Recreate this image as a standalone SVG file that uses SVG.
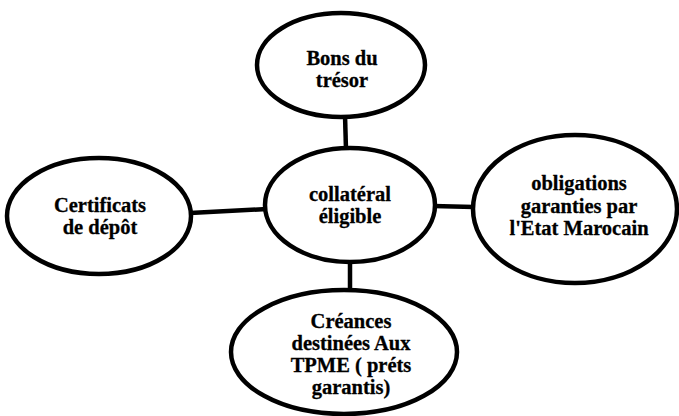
<svg xmlns="http://www.w3.org/2000/svg" width="679" height="416" viewBox="0 0 679 416">
<style>
.n{fill:#fff;stroke:#000;stroke-width:4.5}
.c{stroke:#000;stroke-width:4.5;fill:none}
text{font-family:"Liberation Serif","Times New Roman",serif;font-weight:bold;font-size:20.5px;text-anchor:middle;fill:#000;stroke:#000;stroke-width:0.3}
</style>
<rect width="679" height="416" fill="#fff"/>
<g id="connectors">
<line class="c" x1="345" y1="115" x2="346" y2="150"/>
<line class="c" x1="190" y1="213" x2="267" y2="209"/>
<line class="c" x1="433" y1="206" x2="474" y2="207"/>
<line class="c" x1="350" y1="260" x2="350" y2="292"/>
</g>
<g id="top">
<ellipse class="n" cx="341" cy="65" rx="84" ry="52"/>
<text x="342" y="65">Bons du</text>
<text x="342" y="87">trésor</text>
</g>
<g id="left">
<ellipse class="n" cx="99" cy="216" rx="92" ry="58"/>
<text x="100" y="212">Certificats</text>
<text x="100" y="234">de dépôt</text>
</g>
<g id="center">
<ellipse class="n" cx="350" cy="205" rx="85" ry="57"/>
<text x="350" y="201">collatéral</text>
<text x="350" y="223">éligible</text>
</g>
<g id="right">
<ellipse class="n" cx="575" cy="209" rx="102" ry="74"/>
<text x="579" y="190">obligations</text>
<text x="579" y="212.5">garanties par</text>
<text x="579" y="235">l'Etat Marocain</text>
</g>
<g id="bottom">
<ellipse class="n" cx="344" cy="352" rx="113" ry="62"/>
<text x="351" y="328">Créances</text>
<text x="351" y="350">destinées Aux</text>
<text x="351" y="372">TPME ( préts</text>
<text x="351" y="394">garantis)</text>
</g>
</svg>
